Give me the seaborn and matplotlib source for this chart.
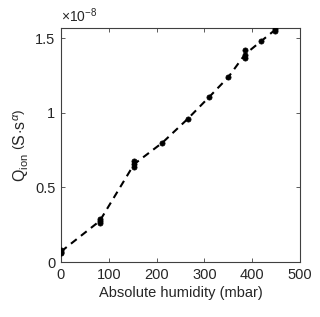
import matplotlib
matplotlib.use("Agg")
import matplotlib.pyplot as plt
import seaborn as sns
import pandas as pd

# Data (Q_ion in units of 1e-8 S·s^alpha)
humidity = [0, 0, 0, 81, 81, 81, 153, 153, 153, 212, 265, 310, 350, 385, 385, 385, 418, 448, 448]
q_ion = [0.06, 0.07, 0.08, 0.26, 0.275, 0.29, 0.64, 0.655, 0.675, 0.80, 0.96, 1.107, 1.24,
         1.37, 1.39, 1.42, 1.48, 1.55, 1.565]
x_ticks = [0, 100, 200, 300, 400, 500]
y_ticks = [0, 0.5, 1, 1.5]
y_ticklabels = ["0", "0.5", "1", "1.5"]

df = pd.DataFrame({"h": humidity, "q": q_ion})

sns.set_theme(style="white")
plt.rcParams["font.family"] = ["Liberation Sans", "DejaVu Sans"]
plt.rcParams["mathtext.fontset"] = "custom"
plt.rcParams["mathtext.rm"] = "Liberation Sans"
plt.rcParams["mathtext.it"] = "Liberation Sans:italic"
plt.rcParams["mathtext.sf"] = "Liberation Sans"

fig = plt.figure(figsize=(3.2, 3.17), dpi=100)
ax = fig.add_axes([0.1906, 0.1735, 0.7469, 0.7382])

sns.lineplot(data=df, x="h", y="q", errorbar=None, color="black", lw=1.5,
             linestyle=(0, (3.5, 2.6)), ax=ax)
sns.scatterplot(data=df, x="h", y="q", color="black", s=14, edgecolor="black",
                linewidth=0.5, ax=ax, zorder=3)

ax.set_xlim(0, 500)
ax.set_ylim(0, 1.57)
ax.set_xticks(x_ticks)
ax.set_yticks(y_ticks)
ax.set_yticklabels(y_ticklabels)
ax.set_xlabel("Absolute humidity (mbar)", fontsize=10.5, color="#262626", labelpad=3)
ax.set_ylabel(r"Q$_{\mathrm{ion}}$ $\left(\mathrm{S}\!\cdot\!\mathrm{s}^{\alpha}\right)$",
              fontsize=11.5, color="#262626", labelpad=3)

for sp in ax.spines.values():
    sp.set_color("#404040")
    sp.set_linewidth(0.8)
ax.tick_params(direction="in", length=3, width=0.6, colors="#404040",
               top=True, right=True, bottom=True, left=True,
               labelsize=10.5, labelcolor="#262626", pad=4)

ax.text(0.0, 1.012, r"$\times$10$^{-8}$", transform=ax.transAxes, fontsize=10,
        color="#262626", ha="left", va="bottom")

fig.savefig("out.png", dpi=100)
